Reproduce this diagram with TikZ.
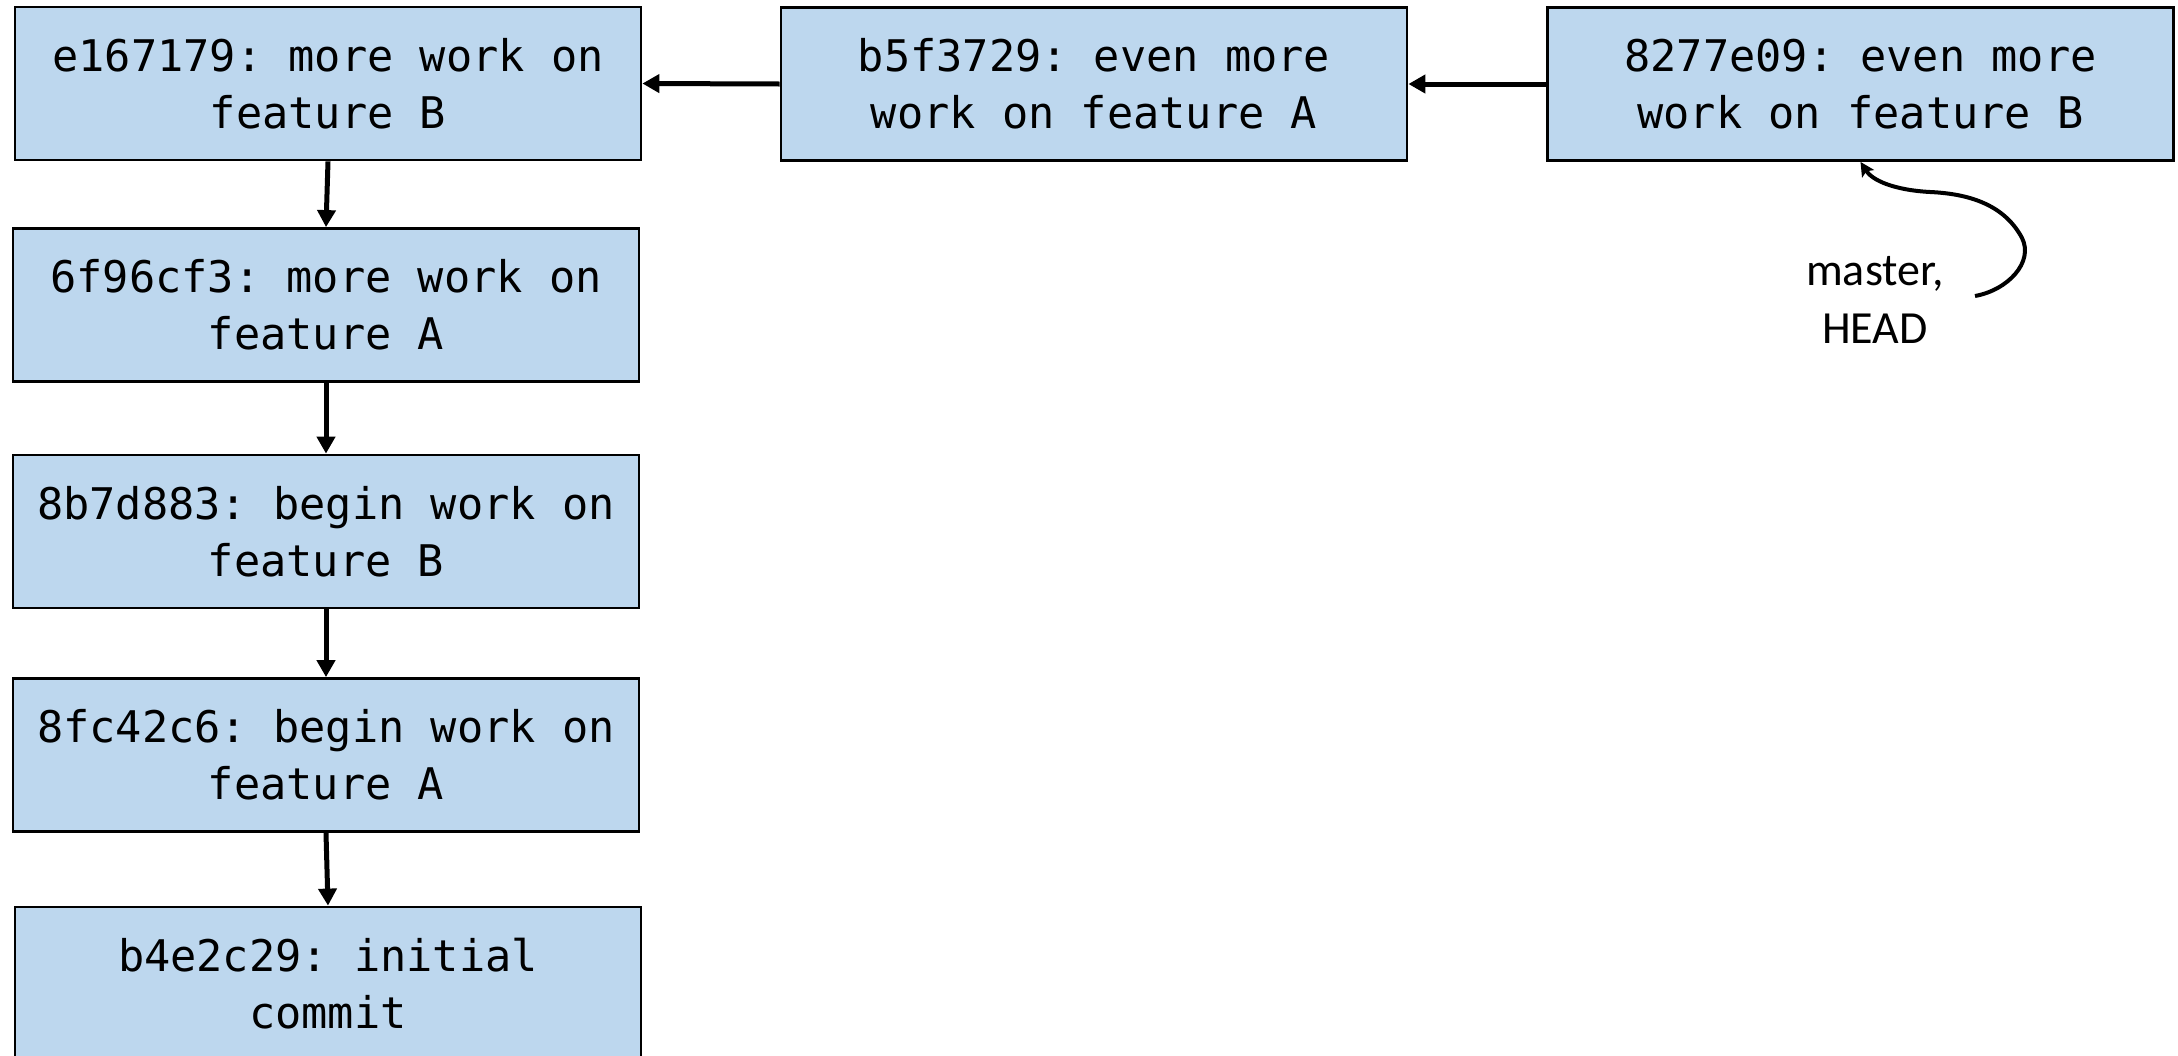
\documentclass[tikz,border=0pt]{standalone}
\usepackage{fontspec}
\setmainfont{Carlito}
\setmonofont{DejaVu Sans Mono}
\usetikzlibrary{arrows.meta}
\definecolor{commitfill}{HTML}{BDD7EE}
\begin{document}
\begin{tikzpicture}[x=0.5pt,y=-0.5pt,
  commit/.style={draw=black, line width=1.4pt, fill=commitfill,
    minimum width=313pt, minimum height=76.5pt, align=center, inner sep=0pt,
    font=\ttfamily\fontsize{21.8}{28.5}\selectfont},
  parent/.style={line width=2.5pt, -{Triangle[length=8.5pt,width=9pt]}},
  ref/.style={line width=2pt, -{Stealth[length=7pt,width=7pt,inset=1.5pt]}},
  reflabel/.style={align=center, font=\fontsize{23}{29}\selectfont}]
\useasboundingbox (0,0) rectangle (2178,1055);
\fill[white] (0,0) rectangle (2178,1055);

% commits
\node[commit] (e167) at (328,83.5)  {e167179: more work on\\feature B};
\node[commit] (f96)  at (326,305)   {6f96cf3: more work on\\feature A};
\node[commit] (b7d)  at (326,531.5) {8b7d883: begin work on\\feature B};
\node[commit] (fc4)  at (326,755)   {8fc42c6: begin work on\\feature A};
\node[commit] (b4e)  at (328,983.5) {b4e2c29: initial\\commit};
\node[commit] (b5f)  at (1094,84)   {b5f3729: even more\\work on feature A};
\node[commit] (e09)  at (1860.5,84) {8277e09: even more\\work on feature B};

% parent links
\draw[parent] (e09.west) -- (b5f.east);
\draw[parent] (b5f.west) -- (e167.east);
\draw[parent] (e167.south) -- (f96.north);
\draw[parent] (f96.south) -- (b7d.north);
\draw[parent] (b7d.south) -- (fc4.north);
\draw[parent] (fc4.south) -- (b4e.north);

% branch / HEAD reference
\node[reflabel] (head) at (1875,300) {master,\\HEAD};
\coordinate (refstart) at (1975,296);
\draw[ref] (refstart) .. controls (2008,290) and (2034,262) .. (2022,238)
  .. controls (2006,208) and (1975,194) .. (1930,192)
  .. controls (1893,190) and (1872,180) .. (e09.south);
\end{tikzpicture}
\end{document}
